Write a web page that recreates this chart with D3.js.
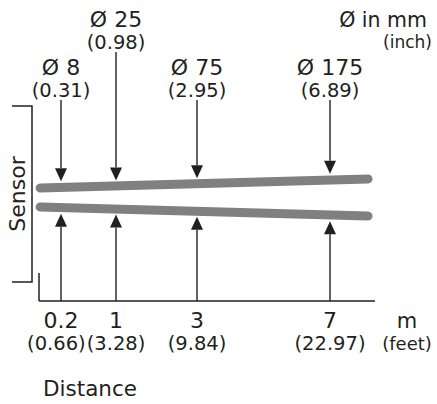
<!DOCTYPE html>
<html><head><meta charset="utf-8">
<script src="https://cdn.jsdelivr.net/npm/d3@7"></script>
<style>html,body{margin:0;padding:0;background:#fff}svg{display:block}text{font-family:"DejaVu Sans",sans-serif;fill:#231f20}</style>
</head><body>
<script>
// ---- data ----
const distances = [0.2, 1, 3, 7];                 // m
const distFeet = ["(0.66)", "(3.28)", "(9.84)", "(22.97)"];
const diameters = [8, 25, 75, 175];              // mm
const diamInch = ["(0.31)", "(0.98)", "(2.95)", "(6.89)"];
const beamDist = [0.01, 8.1];                    // beam drawn from sensor face to end (m)
const beamHalf = [9.5, 18.5];                    // schematic half-spread of beam edges
const unitsTop = ["Ø in mm", "(inch)"];
const unitsBottom = ["m", "(feet)"];
const xTitle = "Distance", yTitle = "Sensor";

const W = 437, H = 404;
const svg = d3.select("body").append("svg").attr("width", W).attr("height", H);

// schematic (piecewise) distance scale
const x = d3.scaleLinear().domain([0, 0.2, 1, 3, 7, 8.3]).range([39, 61, 116, 197, 330, 375]);
const y = d3.scaleLinear().domain([-20, 20]).range([217.5, 177.5]);
const axisY = 301;
const ink = "#231f20";

// beam edges
const upper = beamDist.map((d, i) => [d, beamHalf[i]]);
const lower = beamDist.map((d, i) => [d, -beamHalf[i]]);
const line = d3.line().x(d => x(d[0])).y(d => y(d[1]));
const edgeAt = (arr, d) => d3.scaleLinear().domain(beamDist).range(arr.map(p => p[1]))(d);
[upper, lower].forEach(e => svg.append("path").attr("d", line(e))
  .attr("stroke", "#808080").attr("stroke-width", 9).attr("stroke-linecap", "round").attr("fill", "none"));

// axis line
svg.append("line").attr("x1", x(0)).attr("x2", x(8.3)).attr("y1", axisY).attr("y2", axisY)
  .attr("stroke", ink).attr("stroke-width", 1.5);
svg.append("line").attr("x1", x(0)).attr("x2", x(0)).attr("y1", 273).attr("y2", axisY)
  .attr("stroke", ink).attr("stroke-width", 1.5);

// sensor bracket
svg.append("path").attr("d", "M12,106H32V282H12").attr("fill", "none").attr("stroke", ink).attr("stroke-width", 1.5);
svg.append("text").attr("transform", "translate(25,194) rotate(-90)").attr("text-anchor", "middle")
  .style("font-size", "22px").text(yTitle);

// arrows
const headW = 6, headH = 13, gap = 6.5;
function arrow(xp, y0, tip, dir) { // dir: +1 down, -1 up
  const base = tip - dir * headH;
  svg.append("line").attr("x1", xp).attr("x2", xp).attr("y1", y0).attr("y2", base)
    .attr("stroke", ink).attr("stroke-width", 1.4);
  svg.append("path").attr("d", `M${xp - headW},${base}L${xp + headW},${base}L${xp},${tip}Z`).attr("fill", ink);
}

// top labels (raise a label if crowded against the previous lower one)
let prevX = -1e9;
distances.forEach((d, i) => {
  const xp = x(d);
  const raised = xp - prevX < 70;
  if (!raised) prevX = xp;
  const b1 = raised ? 27 : 75, b2 = raised ? 49 : 97;
  svg.append("text").attr("x", xp).attr("y", b1).attr("text-anchor", "middle").style("font-size", "22px")
    .text("Ø " + diameters[i]);
  svg.append("text").attr("x", xp).attr("y", b2).attr("text-anchor", "middle").style("font-size", "19.5px")
    .text(diamInch[i]);
  arrow(xp, b2 + 3, y(edgeAt(upper, d)) - gap, 1);
  arrow(xp, axisY, y(edgeAt(lower, d)) + gap, -1);
});

// bottom labels
distances.forEach((d, i) => {
  svg.append("text").attr("x", x(d)).attr("y", 328).attr("text-anchor", "middle").style("font-size", "22px").text(d);
});
const ft = distances.map((d, i) => svg.append("text").attr("x", x(d)).attr("y", 350)
  .attr("text-anchor", "middle").style("font-size", "19.5px").text(distFeet[i]));
// resolve overlaps by shifting labels left
for (let i = ft.length - 2; i >= 0; i--) {
  const a = ft[i].node(), b = ft[i + 1].node();
  const aR = +a.getAttribute("x") + a.getComputedTextLength() / 2;
  const bL = +b.getAttribute("x") - b.getComputedTextLength() / 2;
  if (aR > bL - 1) a.setAttribute("x", +a.getAttribute("x") - (aR - bL + 1));
}

// units
svg.append("text").attr("x", 427).attr("y", 27).attr("text-anchor", "end").style("font-size", "20.5px").text(unitsTop[0]);
svg.append("text").attr("x", 432).attr("y", 48).attr("text-anchor", "end").style("font-size", "17px").text(unitsTop[1]);
svg.append("text").attr("x", 407).attr("y", 328).attr("text-anchor", "middle").style("font-size", "21px").text(unitsBottom[0]);
svg.append("text").attr("x", 407).attr("y", 350).attr("text-anchor", "middle").style("font-size", "18px").text(unitsBottom[1]);

svg.append("text").attr("x", 43).attr("y", 396).style("font-size", "21.5px").text(xTitle);
</script>
</body></html>
